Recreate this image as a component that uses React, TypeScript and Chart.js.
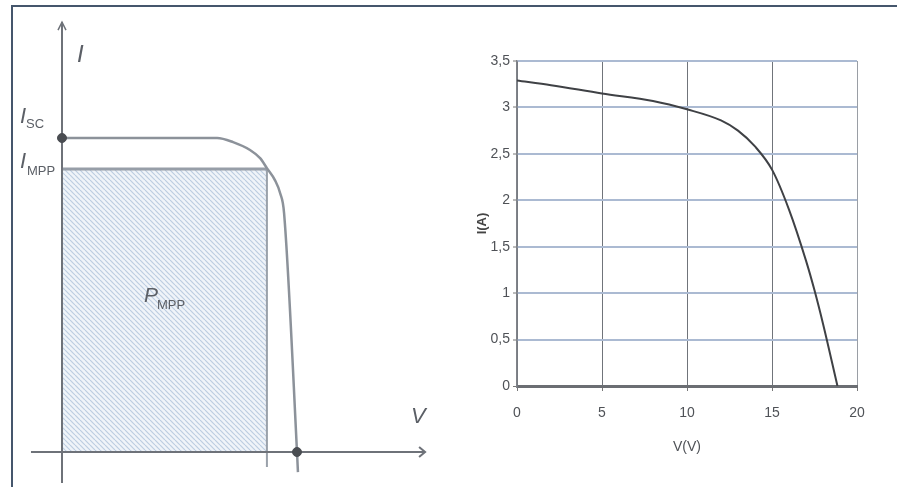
import { useEffect, useRef } from "react";
import { Chart, registerables } from "chart.js";
Chart.register(...registerables);

// ---- Right chart: measured I-V curve ----
const voltage = [0, 2, 5, 8, 10, 12, 13, 14, 15, 16, 17, 17.5, 18, 18.85];
const current = [3.29, 3.24, 3.15, 3.07, 2.98, 2.86, 2.75, 2.58, 2.33, 1.9, 1.35, 1.03, 0.67, 0];
const yTickLabels = ["0", "0,5", "1", "1,5", "2", "2,5", "3", "3,5"];
const xTickLabels = ["0", "5", "10", "15", "20"];
const xTitle = "V(V)";
const yTitle = "I(A)";

// ---- Left chart: schematic I-V curve (normalised units, Voc = 1, Isc = 1) ----
const schemV = [0, 0.66, 0.728, 0.8, 0.843, 0.872, 0.906, 0.928, 0.945, 1.0, 1.004];
const schemI = [1.0, 1.0, 0.987, 0.962, 0.936, 0.904, 0.866, 0.825, 0.761, 0, -0.064];
const ISC = 1.0;
const IMPP = 0.901;
const VMPP = 0.872;
const VOC = 1.0;

const FONT = '"Liberation Sans Narrow", "Liberation Sans", Arial, sans-serif';
const LFONT = '"Liberation Sans", Arial, sans-serif';

export default function App() {
  const leftRef = useRef<HTMLCanvasElement>(null);
  const rightRef = useRef<HTMLCanvasElement>(null);

  useEffect(() => {
    const lc = leftRef.current!;
    const rc = rightRef.current!;

    // hatch pattern
    const tile = document.createElement("canvas");
    tile.width = 5;
    tile.height = 5;
    const t = tile.getContext("2d")!;
    t.fillStyle = "#f0f4f9";
    t.fillRect(0, 0, 5, 5);
    t.strokeStyle = "#bccde1";
    t.lineWidth = 1.2;
    for (let k = -1; k <= 1; k++) {
      t.beginPath();
      t.moveTo(k * 5, 0);
      t.lineTo(k * 5 + 5, 5);
      t.stroke();
    }
    const pattern = lc.getContext("2d")!.createPattern(tile, "repeat");

    // pixel mapping of the schematic (origin at 62,452 in the 450x487 canvas)
    const pxPerV = 235;
    const pxPerI = 314;
    const ox = 62;
    const oy = 452;

    const leftLabels = {
      id: "leftLabels",
      afterDraw(chart: any) {
        const { ctx, scales } = chart;
        const x = scales.x;
        const y = scales.y;
        const x0 = x.getPixelForValue(0);
        const y0 = y.getPixelForValue(0);
        const yIsc = y.getPixelForValue(ISC);
        const yImpp = y.getPixelForValue(IMPP);
        ctx.save();
        ctx.fillStyle = "#5b5f66";
        ctx.textBaseline = "alphabetic";
        ctx.textAlign = "left";
        const big = (s: number) => `italic ${s}px ${LFONT}`;
        const sub = (s: number) => `${s}px ${LFONT}`;
        // axis I
        ctx.font = big(24);
        ctx.fillText("I", x0 + 15, y.getPixelForValue(1.37) + 40);
        // Isc
        ctx.font = big(22);
        ctx.fillText("I", x0 - 42, yIsc - 15);
        ctx.font = sub(13);
        ctx.fillText("SC", x0 - 36, yIsc - 10);
        // Impp
        ctx.font = big(22);
        ctx.fillText("I", x0 - 42, yImpp - 1);
        ctx.font = sub(13);
        ctx.fillText("MPP", x0 - 35, yImpp + 6);
        // Pmpp
        ctx.font = big(21);
        ctx.fillText("P", x0 + 82, y0 - 150);
        ctx.font = sub(13);
        ctx.fillText("MPP", x0 + 95, y0 - 143);
        // V
        ctx.font = big(22);
        ctx.fillText("V", x0 + 349, y0 - 29);
        ctx.restore();
      },
    };

    const lineDs = (data: any[], color: string, width: number, order: number, extra: any = {}) => ({
      data,
      showLine: true,
      borderColor: color,
      borderWidth: width,
      pointRadius: 0,
      fill: false,
      order,
      ...extra,
    });

    const axisColor = "#6e7279";
    const left = new Chart(lc, {
      type: "scatter",
      data: {
        datasets: [
          // dots
          {
            data: [
              { x: 0, y: ISC },
              { x: VOC, y: 0 },
            ],
            showLine: false,
            pointRadius: 4.5,
            pointBackgroundColor: "#4a4d52",
            pointBorderColor: "#4a4d52",
            order: 0,
          },
          // horizontal axis
          lineDs([{ x: -0.132, y: 0 }, { x: 1.545, y: 0 }], axisColor, 2, 1),
          lineDs(
            [
              { x: 1.545 - 6 / pxPerV, y: 5 / pxPerI },
              { x: 1.545, y: 0 },
              { x: 1.545 - 6 / pxPerV, y: -5 / pxPerI },
            ],
            axisColor,
            2,
            1
          ),
          // vertical axis
          lineDs([{ x: 0, y: -0.099 }, { x: 0, y: 1.369 }], axisColor, 2, 1),
          lineDs(
            [
              { x: -4 / pxPerV, y: 1.369 - 8 / pxPerI },
              { x: 0, y: 1.369 },
              { x: 4 / pxPerV, y: 1.369 - 8 / pxPerI },
            ],
            axisColor,
            1.5,
            1
          ),
          // I-V curve
          lineDs(
            schemV.map((v, i) => ({ x: v, y: schemI[i] })),
            "#8c929a",
            2.5,
            2,
            { cubicInterpolationMode: "monotone" }
          ),
          // rectangle right edge
          lineDs([{ x: VMPP, y: IMPP }, { x: VMPP, y: -0.048 }], "#9aa1aa", 2, 3),
          // rectangle (Pmpp area)
          lineDs([{ x: 0, y: IMPP }, { x: VMPP, y: IMPP }], "#979ea8", 3, 4, {
            fill: "origin",
            backgroundColor: pattern,
          }),
        ],
      },
      options: {
        animation: false,
        responsive: false,
        events: [],
        layout: { padding: 0, autoPadding: false },
        plugins: { legend: { display: false }, tooltip: { enabled: false } },
        scales: {
          x: { type: "linear", display: false, min: -ox / pxPerV, max: (450 - ox) / pxPerV },
          y: { type: "linear", display: false, min: -(487 - oy) / pxPerI, max: oy / pxPerI },
        },
      },
      plugins: [leftLabels],
    } as any);

    const right = new Chart(rc, {
      type: "scatter",
      data: {
        datasets: [
          {
            data: voltage.map((v, i) => ({ x: v, y: current[i] })),
            showLine: true,
            borderColor: "#3f4145",
            borderWidth: 2,
            pointRadius: 0,
            cubicInterpolationMode: "monotone",
          },
        ],
      },
      options: {
        animation: false,
        responsive: false,
        events: [],
        layout: { padding: { left: 0, right: 40, top: 61, bottom: 0 }, autoPadding: false },
        plugins: { legend: { display: false }, tooltip: { enabled: false } },
        scales: {
          x: {
            type: "linear",
            min: 0,
            max: 20,
            afterFit: (s: any) => {
              s.height = 101;
            },
            ticks: {
              stepSize: 5,
              padding: 14,
              color: "#4f5257",
              font: { family: FONT, size: 14 },
              callback: (_v: any, i: number) => xTickLabels[i],
            },
            grid: {
              color: (c: any) => (c.tick && c.tick.value === 20 ? "#9a9ea5" : "#70747a"),
              lineWidth: 1,
              tickLength: 5,
              tickColor: "#777",
            },
            border: { display: true, color: "#6b6e73", width: 3 },
            title: {
              display: true,
              text: xTitle,
              color: "#4f5257",
              font: { family: FONT, size: 14 },
              padding: { top: 0, bottom: 31 },
            },
          },
          y: {
            type: "linear",
            min: 0,
            max: 3.5,
            afterFit: (s: any) => {
              s.width = 67;
            },
            ticks: {
              stepSize: 0.5,
              padding: 3,
              color: "#4f5257",
              font: { family: FONT, size: 14 },
              callback: (_v: any, i: number) => yTickLabels[i],
            },
            grid: {
              color: (c: any) => (c.tick && c.tick.value === 0 ? "#6b6e73" : "#abbad2"),
              lineWidth: (c: any) => (c.tick && c.tick.value === 0 ? 3 : 2),
              tickLength: 4,
              tickColor: "#777",
              tickWidth: 1,
            },
            border: { display: true, color: "#808389", width: 1.5 },
            title: {
              display: true,
              text: yTitle,
              color: "#444",
              font: { family: FONT, size: 13, weight: "bold" },
              padding: { top: 25, bottom: 0 },
            },
          },
        },
      },
    } as any);

    return () => {
      left.destroy();
      right.destroy();
    };
  }, []);

  return (
    <div
      style={{
        position: "fixed",
        left: 0,
        top: 0,
        width: 897,
        height: 487,
        background: "#fff",
        overflow: "hidden",
      }}
    >
      <div
        style={{
          position: "absolute",
          left: 11,
          top: 5,
          width: 897 - 11,
          height: 487 - 5,
          borderTop: "2px solid #45566c",
          borderLeft: "2px solid #45566c",
          boxSizing: "border-box",
        }}
      />
      <canvas
        ref={leftRef}
        width={450}
        height={487}
        style={{ position: "absolute", left: 0, top: 0 }}
      />
      <canvas
        ref={rightRef}
        width={447}
        height={487}
        style={{ position: "absolute", left: 450, top: 0 }}
      />
    </div>
  );
}
